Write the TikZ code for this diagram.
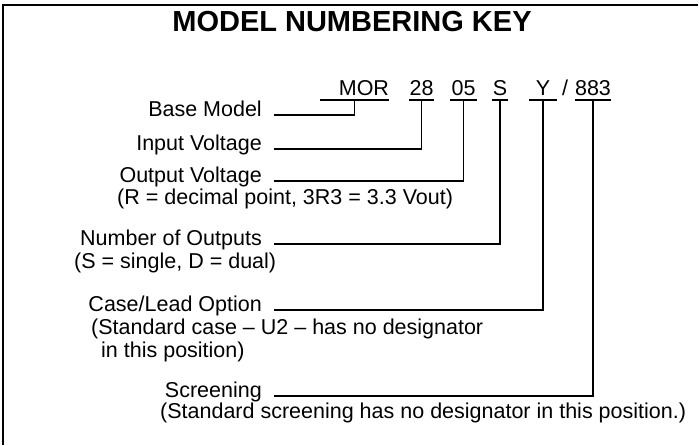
\documentclass[tikz,border=0pt]{standalone}
\usepackage{fontspec}
\setmainfont{Liberation Sans}
\usetikzlibrary{positioning}

\begin{document}
\begin{tikzpicture}[
  x=1pt, y=-1pt,
  txt/.style={inner sep=0pt, font=\fontsize{21.5}{26}\selectfont},
  label/.style={txt, anchor=base east},
  note/.style={txt, anchor=base west},
  code/.style={txt, anchor=base, text depth=5pt, minimum width=#1},
  rule/.style={line width=1.8pt},
  lead/.style={line width=1.8pt}
]
  \useasboundingbox (0,0) rectangle (699,445);
  \draw[line width=1.2pt] (3,445) -- (3,5) -- (698,5);

  \node[inner sep=0pt, anchor=base, font=\fontsize{29}{34}\selectfont\bfseries] (title) at (352,31.7) {MODEL NUMBERING KEY};

  % model number
  \node[txt, anchor=base, text depth=5pt, text width=69pt, align=right] (mor) at (354.5,95) {MOR};
  \node[code=25pt] (c28) at (421.5,95) {28};
  \node[code=27pt] (c05) at (463.5,95) {05};
  \node[code=16pt] (cs) at (500,95) {S};
  \node[code=28pt] (cy) at (543,95) {Y};
  \node[txt, anchor=base] (slash) at (565,95) {/};
  \node[code=34pt] (c883) at (593,95) {883};
  \foreach \c in {mor,c28,c05,cs,cy,c883}
    \draw[rule] (\c.south west) -- (\c.south east);

  % labels
  \node[label] (base) at (262,116) {Base Model};
  \node[label] (input) at (262,150) {Input Voltage};
  \node[label] (output) at (262,182) {Output Voltage};
  \node[note] (outnote) at (117,204) {(R = decimal point, 3R3 = 3.3 Vout)};
  \node[label] (number) at (262,245) {Number of Outputs};
  \node[note] (numnote) at (74,268) {(S = single, D = dual)};
  \node[label] (case) at (262,311) {Case/Lead Option};
  \node[note] (casenote) at (91,334) {(Standard case -- U2 -- has no designator};
  \node[note] (casenote2) at (101,357) {in this position)};
  \node[label] (screen) at (262,397) {Screening};
  \node[note] (screennote) at (160,418) {(Standard screening has no designator in this position.)};

  % leads
  \draw[lead] ([xshift=12pt,yshift=1pt]base.base east) -| (mor.south);
  \draw[lead] ([xshift=12pt,yshift=1pt]input.base east) -| (c28.south);
  \draw[lead] ([xshift=12pt,yshift=1pt]output.base east) -| (c05.south);
  \draw[lead] ([xshift=12pt,yshift=1pt]number.base east) -| (cs.south);
  \draw[lead] ([xshift=12pt,yshift=1pt]case.base east) -| (cy.south);
  \draw[lead] ([xshift=12pt,yshift=1pt]screen.base east) -| (c883.south);
\end{tikzpicture}
\end{document}
